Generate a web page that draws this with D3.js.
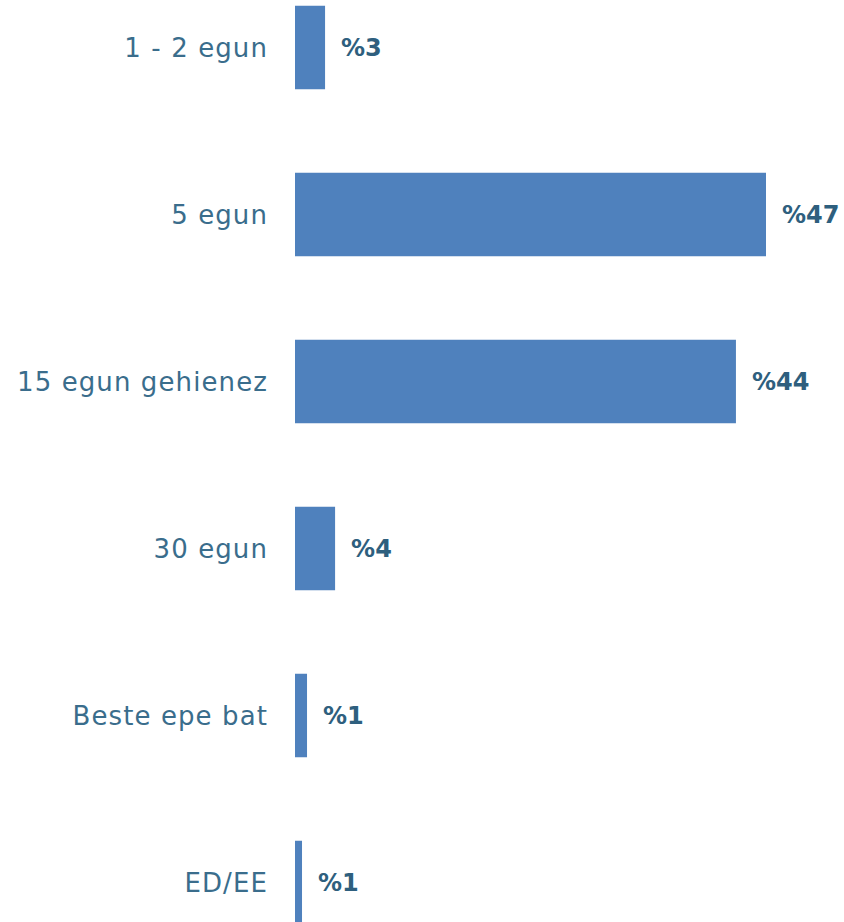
<!DOCTYPE html>
<html>
<head>
<meta charset="utf-8">
<script src="https://cdn.jsdelivr.net/npm/d3@7"></script>
<style>
  body { margin: 0; background: #ffffff; }
</style>
</head>
<body>
<div class="chart"></div>
<script>
// Data
var categories = ["1 - 2 egun", "5 egun", "15 egun gehienez", "30 egun", "Beste epe bat", "ED/EE"];
var values = [3, 47, 44, 4, 1.2, 0.7];

var width = 844;
var height = 922;

var svg = d3.select(".chart")
    .append("svg")
    .attr("width", width)
    .attr("height", height);

// Scales
var x = d3.scaleLinear().domain([0, 47]).range([295, 766]);
var y = d3.scaleBand()
    .domain(categories)
    .range([-36, 966])
    .paddingInner(0.5)
    .paddingOuter(0.25);

// Bars
svg.selectAll("rect.bar")
    .data(values)
    .enter()
    .append("rect")
    .attr("class", "bar")
    .attr("x", x(0))
    .attr("y", (d, i) => y(categories[i]))
    .attr("width", d => x(d) - x(0))
    .attr("height", y.bandwidth())
    .attr("fill", "#4f81bd");

// Category labels
svg.selectAll("text.cat")
    .data(categories)
    .enter()
    .append("text")
    .attr("class", "cat")
    .attr("x", 268)
    .attr("y", d => y(d) + y.bandwidth() / 2)
    .attr("dy", "0.36em")
    .attr("text-anchor", "end")
    .style("font-family", "'DejaVu Sans', sans-serif")
    .style("font-size", "26px")
    .style("letter-spacing", "1.1px")
    .style("fill", "#3a6d8c")
    .text(d => d);

// Value labels
svg.selectAll("text.val")
    .data(values)
    .enter()
    .append("text")
    .attr("class", "val")
    .attr("x", d => x(d) + 16)
    .attr("y", (d, i) => y(categories[i]) + y.bandwidth() / 2)
    .attr("dy", "0.36em")
    .style("font-family", "'DejaVu Sans', sans-serif")
    .style("font-weight", "bold")
    .style("font-size", "24px")
    .style("fill", "#2e5f7e")
    .text(d => "%" + Math.round(d));
</script>
</body>
</html>
